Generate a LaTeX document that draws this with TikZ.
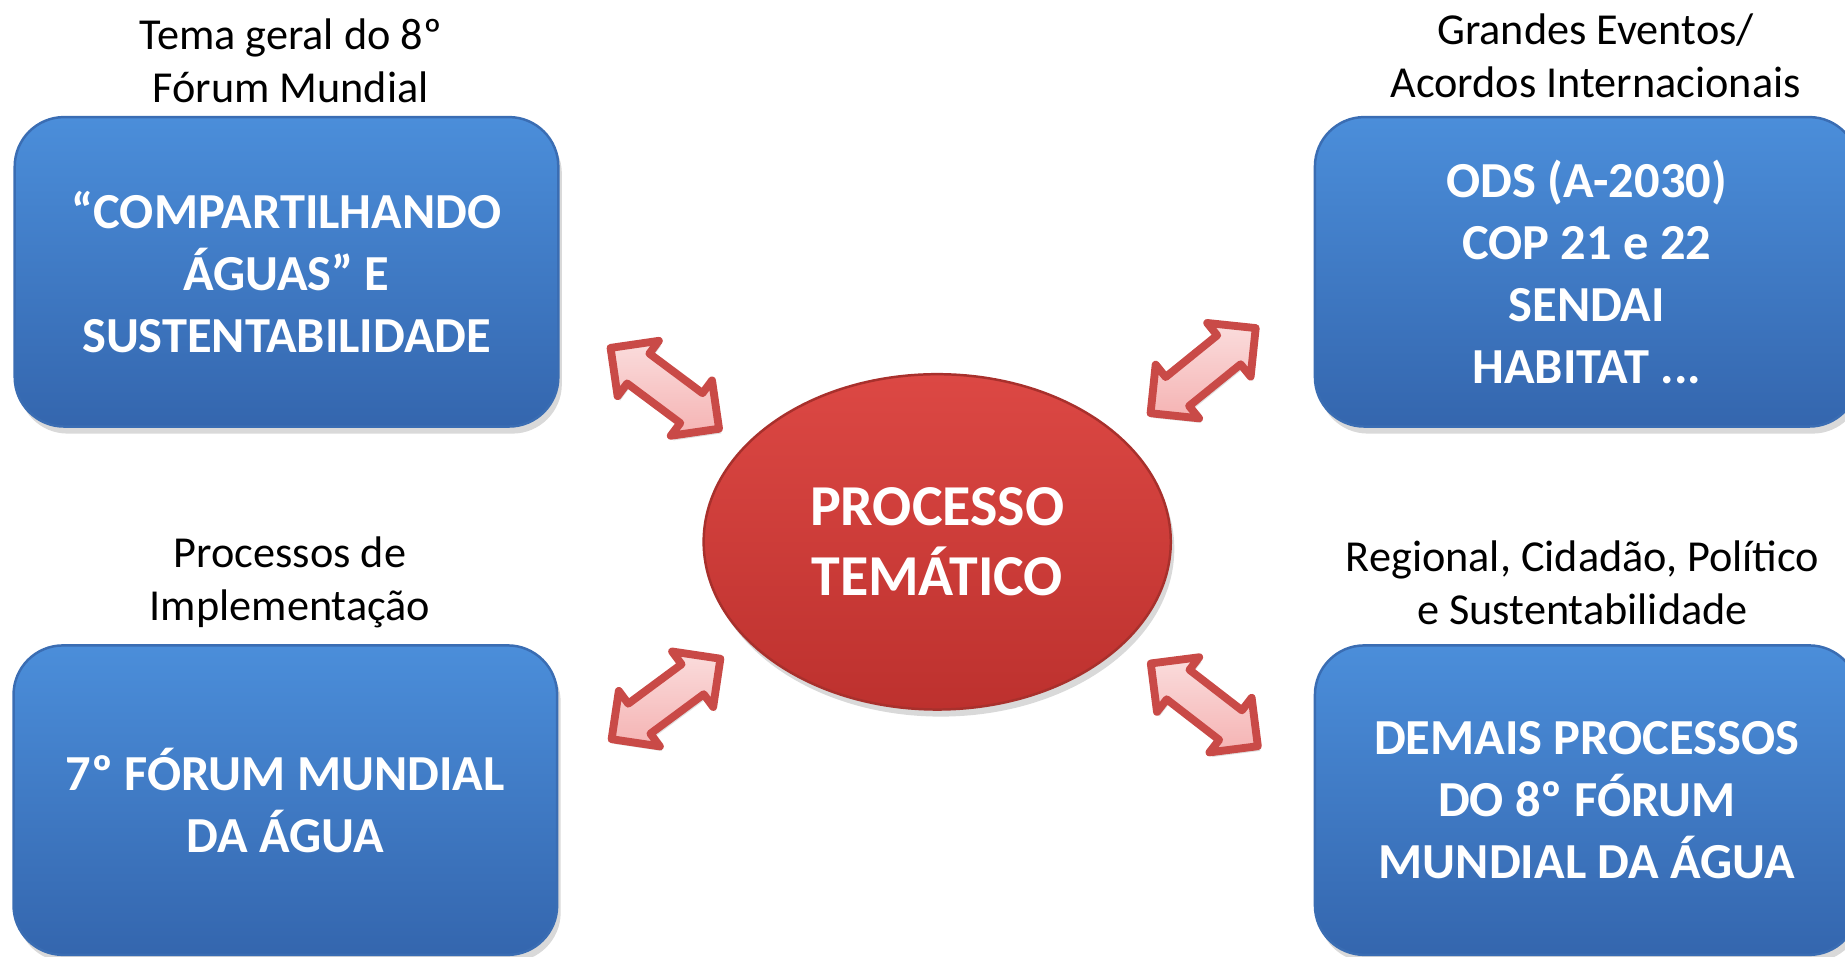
\documentclass[tikz,border=0pt]{standalone}
\usepackage{fontspec}
\setmainfont{Carlito}
\usetikzlibrary{shapes.geometric,shapes.arrows,shadows}
\definecolor{boxtop}{HTML}{4B8EDA}
\definecolor{boxbot}{HTML}{3466AE}
\definecolor{boxline}{HTML}{3A6DB3}
\definecolor{redtop}{HTML}{DC4844}
\definecolor{redbot}{HTML}{BD312E}
\definecolor{redline}{HTML}{A8302C}
\definecolor{setaline}{HTML}{C94A47}
\definecolor{setafill}{HTML}{F5B3B3}
\begin{document}
\begin{tikzpicture}[
    tema/.style={rounded corners=0.42cm,minimum width=4.62cm,minimum height=2.63cm,
      top color=boxtop,bottom color=boxbot,draw=boxline,line width=0.6pt,
      text=white,align=center,font=\bfseries\fontsize{12.2}{15}\selectfont,
      drop shadow={opacity=0.3,shadow xshift=0.03cm,shadow yshift=-0.06cm}},
    rotulo/.style={align=center,font=\fontsize{10.7}{12.8}\selectfont},
    seta/.style={double arrow,draw=setaline,line width=1.9pt,line join=round,
      top color=setafill!45!white,bottom color=setafill,
      minimum height=1.15cm,inner sep=0.125cm,double arrow head extend=0.135cm,
      drop shadow={opacity=0.25,shadow xshift=0.02cm,shadow yshift=-0.04cm}}
  ]
    \useasboundingbox (0,0) rectangle (15.68,8.13);
    \node[ellipse,minimum width=3.97cm,minimum height=2.85cm,top color=redtop,bottom color=redbot,
      draw=redline,line width=0.6pt,text=white,align=center,font=\bfseries\fontsize{14}{17}\selectfont,
      drop shadow={opacity=0.3,shadow xshift=0.03cm,shadow yshift=-0.06cm}]
      (proc) at (7.965,3.525) {PROCESSO\\TEMÁTICO};
    \node[tema] (geral) at (2.435,5.82) {“COMPARTILHANDO\\ÁGUAS” E\\SUSTENTABILIDADE};
    \node[tema] (eventos) at (13.485,5.82) {ODS (A-2030)\\COP 21 e 22\\SENDAI\\HABITAT ...};
    \node[tema] (setimo) at (2.425,1.33) {7º FÓRUM MUNDIAL\\DA ÁGUA};
    \node[tema] (demais) at (13.485,1.33) {DEMAIS PROCESSOS\\DO 8º FÓRUM\\MUNDIAL DA ÁGUA};
    \node[rotulo] (rgeral) at (2.47,7.61) {Tema geral do 8º\\Fórum Mundial};
    \node[rotulo] (reventos) at (13.56,7.655) {Grandes Eventos/\\Acordos Internacionais};
    \node[rotulo] (rsetimo) at (2.465,3.18) {Processos de\\Implementação};
    \node[rotulo] (rdemais) at (13.45,3.18) {Regional, Cidadão, Político\\e Sustentabilidade};
    \node[seta,rotate=-36.7] (s1) at (5.65,4.83) {};
    \node[seta,rotate=39] (s2) at (10.225,4.98) {};
    \node[seta,rotate=36.5] (s3) at (5.66,2.19) {};
    \node[seta,rotate=-37.7] (s4) at (10.235,2.14) {};
  \end{tikzpicture}
\end{document}
